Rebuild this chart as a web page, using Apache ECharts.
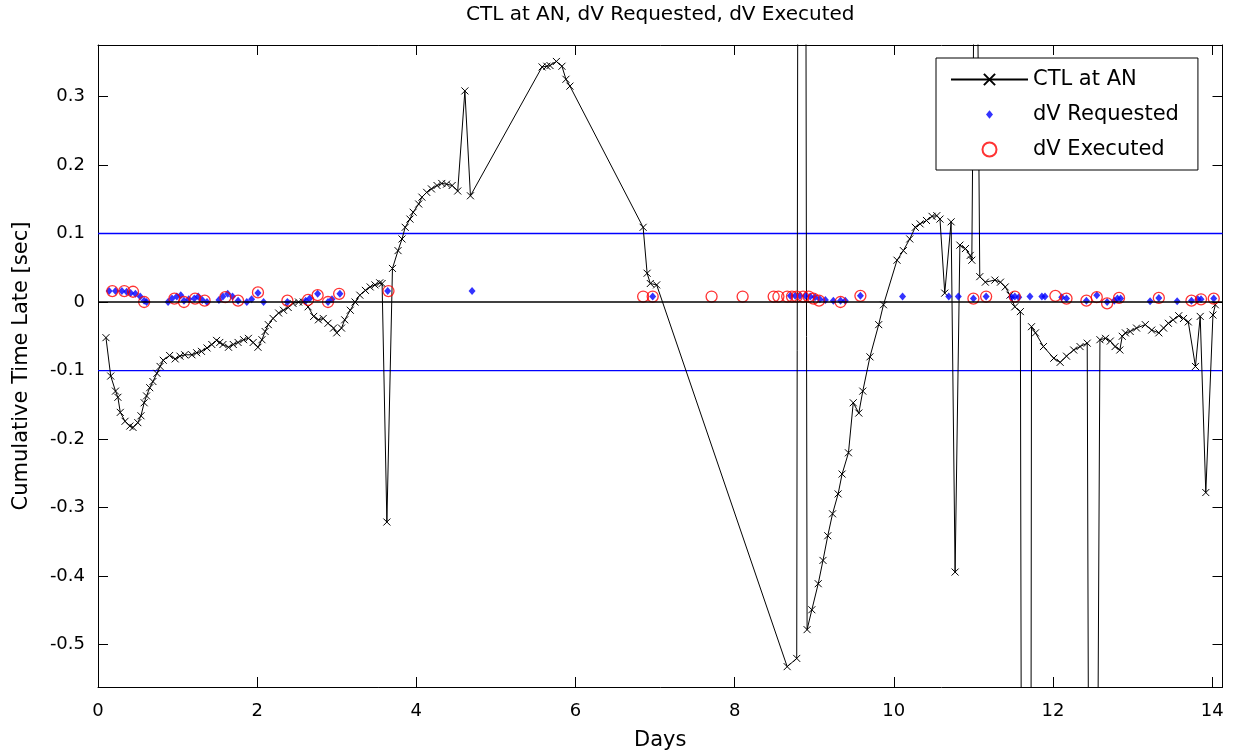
<!DOCTYPE html>
<html>
<head>
<meta charset="utf-8">
<script src="https://cdn.jsdelivr.net/npm/echarts@6/dist/echarts.min.js"></script>
<style>
  html, body { margin: 0; padding: 0; background: #fff; }
  #app { width: 1233px; height: 756px; }
</style>
</head>
<body>
<div id="app"></div>
<script>
// CTL at AN (days, seconds) - spikes go off the axes and get clipped
var ctlDays = [0.10, 0.16, 0.22, 0.25, 0.28, 0.34, 0.40, 0.44, 0.50, 0.54, 0.58, 0.61, 0.65, 0.69, 0.74, 0.78, 0.82, 0.90, 0.97, 1.03,
  1.09, 1.18, 1.24, 1.30, 1.37, 1.43, 1.49, 1.53, 1.57, 1.64, 1.70, 1.76, 1.83, 1.89, 1.95, 2.01, 2.06, 2.10, 2.14, 2.20,
  2.27, 2.33, 2.39, 2.45, 2.52, 2.58, 2.64, 2.71, 2.77, 2.83, 2.89, 2.96, 3.00, 3.06, 3.10, 3.17, 3.23, 3.29, 3.36, 3.42,
  3.48, 3.54, 3.57, 3.63, 3.70, 3.77, 3.82, 3.86, 3.92, 3.96, 4.03, 4.07, 4.13, 4.19, 4.26, 4.32, 4.38, 4.45, 4.52, 4.61,
  4.68, 5.58, 5.64, 5.68, 5.76, 5.83, 5.88, 5.93, 6.85, 6.90, 6.94, 7.02, 8.66, 8.78, 8.84, 8.91, 8.97, 9.05, 9.11, 9.17,
  9.23, 9.30, 9.35, 9.43, 9.49, 9.56, 9.61, 9.70, 9.81, 9.87, 10.04, 10.12, 10.20, 10.27, 10.33, 10.41, 10.48, 10.54, 10.58, 10.64,
  10.72, 10.77, 10.83, 10.90, 10.96, 10.98, 11.03, 11.08, 11.15, 11.27, 11.34, 11.40, 11.46, 11.52, 11.59, 11.68, 11.73, 11.78, 11.88, 12.01,
  12.09, 12.17, 12.26, 12.34, 12.43, 12.49, 12.59, 12.66, 12.72, 12.78, 12.84, 12.87, 12.91, 12.97, 13.05, 13.16, 13.24, 13.33, 13.39, 13.45,
  13.51, 13.58, 13.64, 13.70, 13.79, 13.85, 13.92, 14.01, 14.04];
var ctlLate = [-0.052, -0.108, -0.130, -0.139, -0.161, -0.174, -0.181, -0.183, -0.176, -0.166, -0.147, -0.137, -0.125, -0.116, -0.104, -0.094, -0.085, -0.078, -0.083, -0.079,
  -0.077, -0.077, -0.074, -0.072, -0.067, -0.062, -0.056, -0.059, -0.062, -0.066, -0.062, -0.059, -0.055, -0.053, -0.059, -0.066, -0.055, -0.043, -0.033, -0.024,
  -0.016, -0.012, -0.008, -0.002, 0.000, 0.000, -0.007, -0.021, -0.026, -0.024, -0.031, -0.038, -0.045, -0.038, -0.026, -0.012, 0.000, 0.010, 0.017, 0.022,
  0.025, 0.028, 0.027, -0.321, 0.049, 0.075, 0.092, 0.109, 0.121, 0.131, 0.143, 0.153, 0.160, 0.165, 0.170, 0.173, 0.172, 0.170, 0.162, 0.308,
  0.155, 0.343, 0.344, 0.345, 0.351, 0.344, 0.325, 0.315, 0.109, 0.042, 0.027, 0.025, -0.532, -0.520, 4.0, -0.478, -0.449, -0.411, -0.377, -0.341,
  -0.309, -0.280, -0.251, -0.220, -0.147, -0.162, -0.130, -0.080, -0.033, -0.004, 0.061, 0.075, 0.092, 0.109, 0.114, 0.119, 0.125, 0.126, 0.121, 0.013,
  0.117, -0.394, 0.083, 0.078, 0.068, 0.061, 0.8, 0.037, 0.029, 0.032, 0.029, 0.022, 0.010, -0.007, -0.014, -5.0, -0.036, -0.045, -0.065, -0.082,
  -0.088, -0.079, -0.070, -0.065, -0.060, -2.3, -0.055, -0.053, -0.057, -0.065, -0.070, -0.050, -0.045, -0.043, -0.038, -0.033, -0.041, -0.045, -0.038, -0.031,
  -0.026, -0.020, -0.024, -0.029, -0.094, -0.021, -0.278, -0.019, -0.004];

// dV Requested
var reqDays = [0.14, 0.22, 0.30, 0.36, 0.41, 0.47, 0.53, 0.58, 0.61, 0.88, 0.93, 0.99, 1.04, 1.08, 1.14, 1.21, 1.26, 1.31, 1.37, 1.52,
  1.57, 1.63, 1.69, 1.76, 1.87, 1.93, 2.01, 2.08, 2.38, 2.61, 2.66, 2.76, 2.89, 2.94, 3.04, 3.64, 4.70, 6.97, 8.70, 8.76,
  8.82, 8.89, 8.95, 9.01, 9.07, 9.14, 9.24, 9.33, 9.39, 9.58, 10.11, 10.69, 10.81, 11.00, 11.16, 11.48, 11.52, 11.57, 11.71, 11.86,
  11.90, 12.11, 12.17, 12.42, 12.55, 12.68, 12.77, 12.81, 12.85, 13.22, 13.33, 13.56, 13.74, 13.82, 13.86, 14.02];
var reqLate = [0.016, 0.016, 0.016, 0.015, 0.013, 0.012, 0.008, 0.002, 0.000, 0.000, 0.005, 0.008, 0.010, 0.002, 0.004, 0.005, 0.008, 0.003, 0.000, 0.003,
  0.008, 0.012, 0.008, 0.002, 0.000, 0.004, 0.013, 0.000, 0.000, 0.002, 0.005, 0.012, 0.000, 0.004, 0.012, 0.016, 0.016, 0.008, 0.009, 0.009,
  0.009, 0.009, 0.008, 0.007, 0.004, 0.003, 0.002, 0.002, 0.002, 0.009, 0.008, 0.008, 0.008, 0.005, 0.008, 0.007, 0.008, 0.007, 0.008, 0.008,
  0.008, 0.007, 0.005, 0.002, 0.010, 0.000, 0.002, 0.005, 0.005, 0.001, 0.006, 0.001, 0.002, 0.004, 0.004, 0.005];

// dV Executed
var exeDays = [0.18, 0.33, 0.44, 0.58, 0.96, 1.08, 1.22, 1.34, 1.60, 1.76, 2.01, 2.38, 2.64, 2.76, 2.89, 3.03, 3.65, 6.85, 6.97, 7.71,
  8.10, 8.49, 8.55, 8.66, 8.72, 8.78, 8.86, 8.93, 8.99, 9.06, 9.33, 9.58, 11.00, 11.16, 11.52, 12.03, 12.17, 12.42, 12.55, 12.68,
  12.83, 13.33, 13.74, 13.86, 14.02];
var exeLate = [0.016, 0.016, 0.015, 0.000, 0.005, 0.000, 0.005, 0.002, 0.007, 0.002, 0.014, 0.002, 0.003, 0.010, 0.000, 0.012, 0.016, 0.008, 0.008, 0.008,
  0.008, 0.008, 0.008, 0.008, 0.008, 0.008, 0.008, 0.008, 0.005, 0.002, 0.000, 0.009, 0.005, 0.008, 0.008, 0.009, 0.005, 0.002, 0.007, -0.002,
  0.006, 0.006, 0.002, 0.004, 0.005];

// tolerance band and zero line
var limitDays = [0, 14.13];
var upperLimit = [0.1, 0.1];
var lowerLimit = [-0.1, -0.1];
var zeroLine = [0, 0];

var xTicks = [0, 2, 4, 6, 8, 10, 12, 14];
var yTicks = [-0.5, -0.4, -0.3, -0.2, -0.1, 0, 0.1, 0.2, 0.3];

function pairs(xs, ys) {
  return xs.map(function (x, i) { return [x, ys[i]]; });
}

var FONT = 'DejaVu Sans';
var myChart = echarts.init(document.getElementById('app'));

var tickSide = {
  show: true, inside: true, length: 10,
  lineStyle: { color: '#000', width: 1 }
};

var option = {
  animation: false,
  backgroundColor: '#fff',
  textStyle: { fontFamily: FONT },
  grid: { left: 98, right: 10.5, top: 43.5, bottom: 67, containLabel: false },
  legend: {
    data: [
      { name: 'CTL at AN' },
      { name: 'dV Requested', icon: 'path://M10,4L15,10L10,16L5,10Z M0,0 M20,20' },
      { name: 'dV Executed' }
    ],
    orient: 'vertical',
    left: 936, top: 58,
    padding: [11, 19, 10, 14],
    itemWidth: 77, itemHeight: 14, itemGap: 14,
    backgroundColor: '#fff',
    borderColor: '#000', borderWidth: 1,
    textStyle: { fontFamily: FONT, fontSize: 21, color: '#000' },
    selectedMode: false
  },
  xAxis: [{
    type: 'value', min: 0, max: 14.13, position: 'bottom',
    name: 'Days', nameLocation: 'middle', nameGap: 43,
    nameTextStyle: { fontFamily: FONT, fontSize: 21, color: '#000' },
    axisLine: { onZero: false, lineStyle: { color: '#000', width: 1 } },
    axisTick: Object.assign({ customValues: xTicks }, tickSide),
    axisLabel: { customValues: xTicks, color: '#000', fontSize: 18, margin: 15 },
    splitLine: { show: false }
  }, {
    type: 'value', min: 0, max: 14.13, position: 'top',
    name: 'CTL at AN, dV Requested, dV Executed', nameLocation: 'middle', nameGap: 20,
    nameTextStyle: { fontFamily: FONT, fontSize: 20, color: '#000' },
    axisLine: { onZero: false, lineStyle: { color: '#000', width: 1 } },
    axisTick: Object.assign({ customValues: xTicks }, tickSide),
    axisLabel: { show: false },
    splitLine: { show: false }
  }],
  yAxis: [{
    type: 'value', min: -0.5617, max: 0.375, position: 'left',
    name: 'Cumulative Time Late [sec]', nameLocation: 'middle', nameGap: 66, nameRotate: 90,
    nameTextStyle: { fontFamily: FONT, fontSize: 21, color: '#000' },
    axisLine: { onZero: false, lineStyle: { color: '#000', width: 1 } },
    axisTick: Object.assign({ customValues: yTicks }, tickSide),
    axisLabel: { customValues: yTicks, color: '#000', fontSize: 18, margin: 13 },
    splitLine: { show: false }
  }, {
    type: 'value', min: -0.5617, max: 0.375, position: 'right',
    axisLine: { onZero: false, lineStyle: { color: '#000', width: 1 } },
    axisTick: Object.assign({ customValues: yTicks }, tickSide),
    axisLabel: { show: false },
    splitLine: { show: false }
  }],
  series: [{
    name: 'CTL at AN',
    type: 'line',
    data: pairs(ctlDays, ctlLate),
    symbol: 'path://M0,0L10,10M10,0L0,10',
    symbolSize: 7,
    showSymbol: true, showAllSymbol: true,
    clip: true,
    lineStyle: { color: '#000', width: 1 },
    itemStyle: { color: '#000', borderColor: '#000', borderWidth: 1 },
    z: 3
  }, {
    name: 'dV Requested',
    type: 'scatter',
    data: pairs(reqDays, reqLate),
    symbol: 'diamond',
    symbolSize: [7, 8],
    itemStyle: { color: '#0000ff' },
    z: 4
  }, {
    name: 'dV Executed',
    type: 'scatter',
    data: pairs(exeDays, exeLate),
    symbol: 'circle',
    symbolSize: 11,
    itemStyle: { color: 'rgba(0,0,0,0)', borderColor: '#ff0000', borderWidth: 1.3 },
    z: 5
  }, {
    type: 'line', data: pairs(limitDays, upperLimit), symbol: 'none', silent: true,
    lineStyle: { color: '#0000ff', width: 1.3 }, z: 2
  }, {
    type: 'line', data: pairs(limitDays, lowerLimit), symbol: 'none', silent: true,
    lineStyle: { color: '#0000ff', width: 1.3 }, z: 2
  }, {
    type: 'line', data: pairs(limitDays, zeroLine), symbol: 'none', silent: true,
    lineStyle: { color: '#000', width: 1.3 }, z: 6
  }]
};
myChart.setOption(option);
</script>
</body>
</html>
